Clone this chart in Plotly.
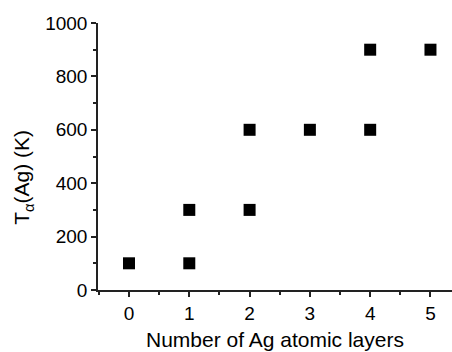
import plotly.graph_objects as go

# Number of Ag atomic layers and the corresponding T_alpha(Ag) values (K)
layers = [0, 1, 1, 2, 2, 3, 4, 4, 5]
t_alpha = [100, 100, 300, 300, 600, 600, 600, 900, 900]

x_ticks = [0, 1, 2, 3, 4, 5]
y_ticks = [0, 200, 400, 600, 800, 1000]

x_title = "Number of Ag atomic layers"
y_title = "T<sub>α</sub>(Ag) (K)"

font_family = "Liberation Sans, Arial, sans-serif"
axis_color = "#222"

fig = go.Figure(
    go.Scatter(
        x=layers,
        y=t_alpha,
        mode="markers",
        marker=dict(symbol="square", size=12, color="black", line=dict(width=0)),
        showlegend=False,
    )
)

fig.update_layout(
    width=452,
    height=352,
    margin=dict(l=98, r=0, t=23, b=62),
    paper_bgcolor="white",
    plot_bgcolor="white",
    font=dict(family=font_family, size=19, color="black"),
)

fig.update_xaxes(
    range=[-0.514, 5.357],
    tickmode="array",
    tickvals=x_ticks,
    ticks="outside",
    ticklen=5,
    tickwidth=1.5,
    tickcolor=axis_color,
    minor=dict(dtick=0.5, ticks="outside", ticklen=3, tickwidth=1.5, tickcolor=axis_color),
    showline=True,
    linecolor=axis_color,
    linewidth=1.5,
    showgrid=False,
    zeroline=False,
    tickfont=dict(size=19),
)

fig.update_yaxes(
    range=[0, 1000],
    tickmode="array",
    tickvals=y_ticks,
    ticks="outside",
    ticklen=5,
    tickwidth=1.5,
    tickcolor=axis_color,
    minor=dict(dtick=100, ticks="outside", ticklen=3, tickwidth=1.5, tickcolor=axis_color),
    showline=True,
    linecolor=axis_color,
    linewidth=1.5,
    showgrid=False,
    zeroline=False,
    tickfont=dict(size=19),
)

# Axis titles placed as annotations for precise positioning
fig.add_annotation(
    text=x_title,
    xref="paper", yref="paper", x=0.5, y=0,
    xanchor="center", yanchor="middle", yshift=-49,
    showarrow=False, font=dict(size=21),
)
fig.add_annotation(
    text=y_title,
    xref="paper", yref="paper", x=0, y=0.42,
    xanchor="center", yanchor="middle", xshift=-75,
    textangle=-90, showarrow=False, font=dict(size=21),
)

fig.write_html("out.html")
